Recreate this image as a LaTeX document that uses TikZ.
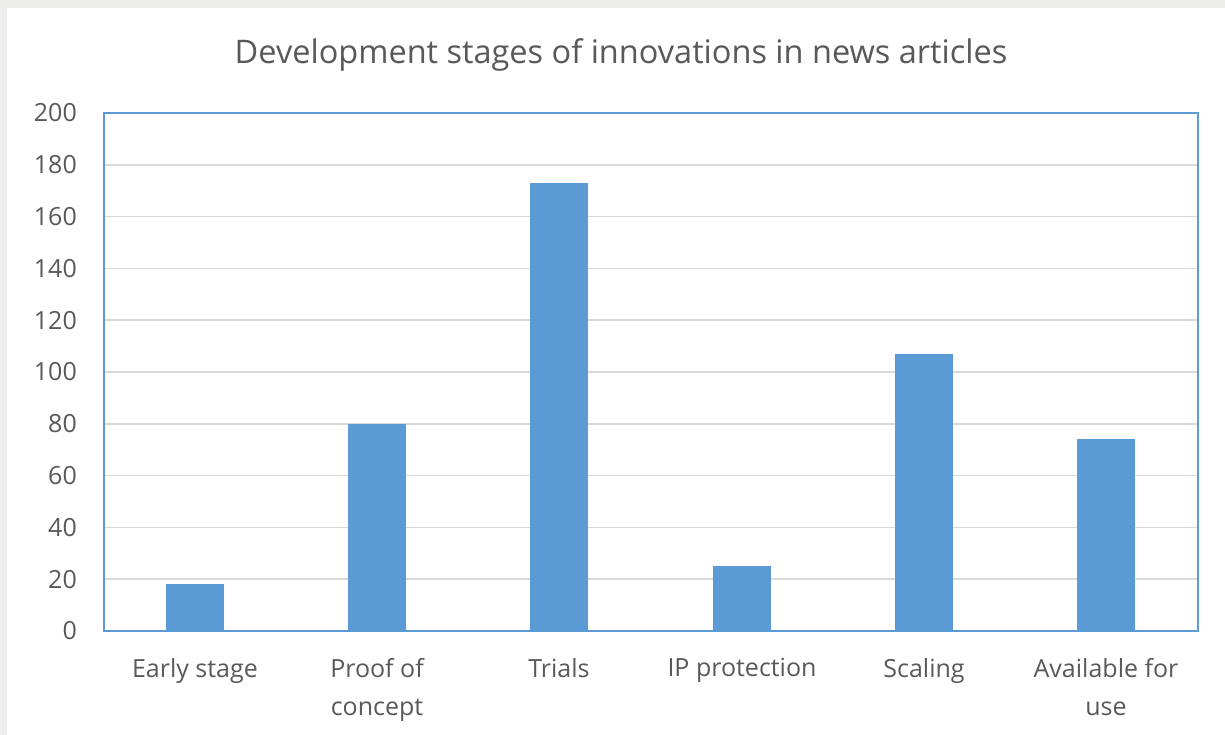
\documentclass[tikz,border=0pt]{standalone}
\usepackage{fontspec}
\setmainfont{Open Sans}
\definecolor{barblue}{HTML}{5B9BD5}
\definecolor{gridgray}{HTML}{D9D9D9}
\definecolor{txtgray}{HTML}{595959}
\definecolor{outergray}{HTML}{EDEDEB}
\begin{document}
\begin{tikzpicture}[x=1pt,y=-1pt,
  tick/.style={anchor=east,text=txtgray,font=\fontsize{25}{30}\selectfont,inner sep=0pt},
  cat/.style={anchor=north,text=txtgray,font=\fontsize{25}{38}\selectfont,align=center,inner sep=0pt},
  bar/.style={fill=barblue,draw=none},
  grid/.style={draw=gridgray,line width=1.5pt}]
\useasboundingbox (0,0) rectangle (1225,735);
\fill[outergray] (0,0) rectangle (1225,735);
\fill[white] (7,8) rectangle (1225,735);
\node[text=txtgray,font=\fontsize{32.5}{38}\selectfont,inner sep=0pt] (title) at (621,55) {Development stages of innovations in news articles};
% grid and ticks
\foreach \v in {0,20,...,200}{
  \pgfmathsetmacro{\yy}{631-\v*2.59}
  \draw[grid] (104,\yy) -- (1198,\yy);
  \node[tick] (t\v) at (77,\yy) {\v};
}
% bars
\foreach \c/\val/\nm in {195/18/b1,377/80/b2,559/173/b3,742/25/b4,924/107/b5,1106/74/b6}{
  \pgfmathsetmacro{\yy}{631-\val*2.59}
  \fill[bar] (\c-29,631) rectangle (\c+29,\yy);
  \coordinate (\nm) at (\c,\yy);
}
\draw[barblue,line width=2pt] (104,113) rectangle (1198,631);
% categories
\node[cat] (c1) at (195,658) {Early stage};
\node[cat] (c2) at (377,658) {Proof of\\concept};
\node[cat] (c3) at (559,658) {Trials};
\node[cat] (c4) at (742,658) {IP protection};
\node[cat] (c5) at (924,658) {Scaling};
\node[cat] (c6) at (1106,658) {Available for\\use};
\end{tikzpicture}
\end{document}
